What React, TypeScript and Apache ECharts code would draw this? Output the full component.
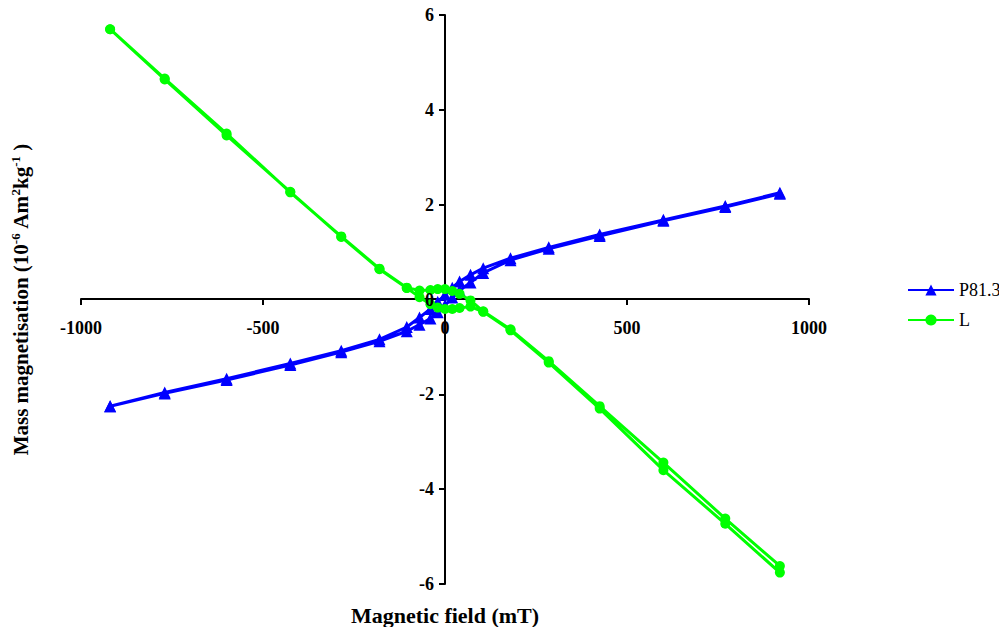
import React, { useEffect, useRef } from "react";
import * as echarts from "echarts";

// Field steps (mT): descending branch then ascending branch
const fieldDown = [920, 770, 600, 425, 285, 180, 105, 70, 40, 20, 0, -20, -40, -70, -105, -180, -285, -425, -600, -770, -920];
const fieldUp = [-920, -770, -600, -425, -285, -180, -105, -70, -40, -20, 0, 20, 40, 70, 105, 180, 285, 425, 600, 770, 920];

// P81.3 mass magnetisation (10^-6 Am2/kg)
const p813Down = [2.25, 1.97, 1.68, 1.37, 1.1, 0.87, 0.66, 0.52, 0.38, 0.25, 0.1, -0.05, -0.2, -0.38, -0.58, -0.84, -1.08, -1.35, -1.67, -1.96, -2.25];
const p813Up = [-2.25, -1.98, -1.7, -1.38, -1.11, -0.88, -0.67, -0.53, -0.4, -0.27, -0.12, 0.04, 0.19, 0.36, 0.56, 0.83, 1.07, 1.34, 1.66, 1.95, 2.23];

// L mass magnetisation
const lDown = [-5.62, -4.62, -3.44, -2.25, -1.3, -0.63, -0.25, -0.02, 0.12, 0.18, 0.22, 0.22, 0.2, 0.19, 0.25, 0.65, 1.33, 2.26, 3.5, 4.66, 5.7];
const lUp = [5.7, 4.64, 3.46, 2.27, 1.32, 0.64, 0.24, 0.05, -0.1, -0.17, -0.2, -0.2, -0.18, -0.15, -0.26, -0.65, -1.33, -2.3, -3.6, -4.73, -5.76];

const xTicks = { min: -1000, max: 1000, interval: 500 };
const yTicks = { min: -6, max: 6, interval: 2 };

const FONT = "Liberation Serif";

function loop(fd: number[], md: number[], fu: number[], mu: number[]) {
  const pts: number[][] = [];
  fd.forEach((f, i) => pts.push([f, md[i]]));
  fu.forEach((f, i) => pts.push([f, mu[i]]));
  return pts;
}

const labelStyle = {
  fontFamily: FONT,
  fontSize: 18,
  fontWeight: "bold",
  color: "#000",
  formatter: (v: number) => String(v),
};

export default function App() {
  const ref = useRef<HTMLDivElement>(null);
  useEffect(() => {
    if (!ref.current) return;
    const chart = echarts.init(ref.current, undefined, { renderer: "svg" });
    chart.setOption({
      animation: false,
      backgroundColor: "#ffffff",
      textStyle: { fontFamily: FONT },
      grid: { left: 81, right: 198, top: 15, bottom: 51, containLabel: false, outerBoundsMode: "none" },
      legend: {
        orient: "vertical",
        left: 902,
        top: 276,
        itemWidth: 46,
        itemHeight: 14,
        itemGap: 12,
        textStyle: { fontFamily: FONT, fontSize: 18, color: "#000" },
        data: ["P81.3", "L"],
      },
      xAxis: [
        {
          type: "value",
          position: "bottom",
          offset: -285,
          min: xTicks.min,
          max: xTicks.max,
          interval: xTicks.interval,
          name: "Magnetic field (mT)",
          nameLocation: "middle",
          nameGap: 305,
          nameTextStyle: { fontFamily: FONT, fontSize: 22, fontWeight: "bold", color: "#000" },
          axisLine: { onZero: false, lineStyle: { color: "#000", width: 2 } },
          axisTick: { show: true, length: 6, lineStyle: { color: "#000", width: 2 } },
          axisLabel: { show: false },
          splitLine: { show: false },
        },
        {
          type: "value",
          position: "bottom",
          offset: -285,
          min: xTicks.min,
          max: xTicks.max,
          interval: xTicks.interval,
          z: 20,
          axisLine: { show: false, onZero: false },
          axisTick: { show: false },
          axisLabel: { margin: 20, ...labelStyle },
          splitLine: { show: false },
        },
      ],
      yAxis: [
        {
          type: "value",
          position: "left",
          offset: -364,
          min: yTicks.min,
          max: yTicks.max,
          interval: yTicks.interval,
          name: "Mass magnetisation (10{sup|-6} Am{sup|2}kg{sup|-1} )",
          nameLocation: "middle",
          nameGap: 413,
          nameRotate: 90,
          nameTextStyle: {
            fontFamily: FONT,
            fontSize: 21,
            fontWeight: "bold",
            color: "#000",
            rich: {
              sup: { fontFamily: FONT, fontSize: 13, fontWeight: "bold", color: "#000", padding: [0, 0, 10, 0] },
            },
          },
          axisLine: { onZero: false, lineStyle: { color: "#000", width: 2 } },
          axisTick: { show: true, length: 6, lineStyle: { color: "#000", width: 2 } },
          axisLabel: { show: false },
          splitLine: { show: false },
        },
        {
          type: "value",
          position: "left",
          offset: -364,
          min: yTicks.min,
          max: yTicks.max,
          interval: yTicks.interval,
          z: 20,
          axisLine: { show: false, onZero: false },
          axisTick: { show: false },
          axisLabel: { margin: 11, ...labelStyle },
          splitLine: { show: false },
        },
      ],
      series: [
        {
          name: "P81.3",
          type: "line",
          xAxisIndex: 0,
          yAxisIndex: 0,
          data: loop(fieldDown, p813Down, fieldUp, p813Up),
          symbol: "triangle",
          symbolSize: 12,
          showAllSymbol: true,
          color: "#0000ff",
          lineStyle: { color: "#0000ff", width: 3 },
          itemStyle: { color: "#0000ff" },
          z: 2,
        },
        {
          name: "L",
          type: "line",
          xAxisIndex: 0,
          yAxisIndex: 0,
          data: loop(fieldDown, lDown, fieldUp, lUp),
          symbol: "circle",
          symbolSize: 10,
          showAllSymbol: true,
          color: "#00ff00",
          lineStyle: { color: "#00ff00", width: 3 },
          itemStyle: { color: "#00ff00" },
          z: 3,
        },
      ],
    });
    return () => chart.dispose();
  }, []);
  return <div ref={ref} style={{ width: 1007, height: 635, margin: -8 }} />;
}
